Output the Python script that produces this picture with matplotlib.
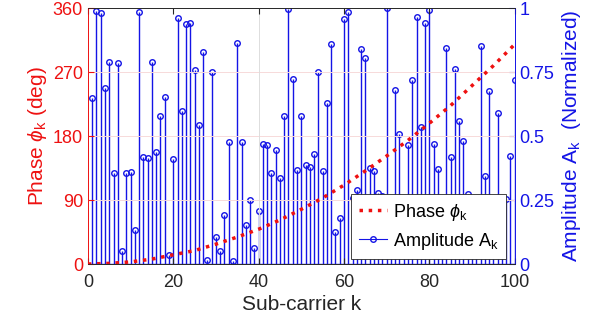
import numpy as np
import matplotlib.pyplot as plt

plt.rcParams['font.family'] = ['Liberation Sans', 'DejaVu Sans']
plt.rcParams['mathtext.fontset'] = 'custom'
plt.rcParams['mathtext.rm'] = 'Liberation Sans'
plt.rcParams['mathtext.it'] = 'Liberation Sans:italic'

# --- dados ---
k = np.arange(1, 101)
amplitude = [0.647, 0.990, 0.982, 0.686, 0.790, 0.354, 0.786, 0.052, 0.357, 0.360,
             0.133, 0.986, 0.419, 0.413, 0.788, 0.436, 0.579, 0.654, 0.035, 0.409,
             0.963, 0.599, 0.938, 0.940, 0.759, 0.543, 0.827, 0.016, 0.751, 0.107,
             0.052, 0.191, 0.478, 0.013, 0.865, 0.478, 0.152, 0.250, 0.061, 0.208,
             0.469, 0.465, 0.357, 0.445, 0.335, 0.578, 0.996, 0.723, 0.367, 0.578,
             0.387, 0.380, 0.430, 0.749, 0.365, 0.630, 0.859, 0.124, 0.178, 0.956,
             0.983, 0.257, 0.289, 0.842, 0.807, 0.374, 0.365, 0.279, 0.266, 0.999,
             0.120, 0.680, 0.508, 0.200, 0.467, 0.721, 0.966, 0.534, 0.940, 0.992,
             0.469, 0.370, 0.080, 0.846, 0.419, 0.762, 0.559, 0.482, 0.273, 0.170,
             0.050, 0.852, 0.344, 0.677, 0.220, 0.592, 0.140, 0.254, 0.422, 0.719]

phase_k = [0, 5, 10, 15, 20, 25, 30, 35, 40, 45, 50,
           55, 60, 65, 70, 75, 80, 85, 90, 95, 100]
phase_deg = [0, 1, 3, 7, 13, 19, 28, 38, 49, 62, 77,
             93, 111, 131, 152, 174, 198, 223, 251, 279, 309]

RED = '#ee1111'
BLUE = '#1414e6'
GRAY = '#262626'

fig = plt.figure(figsize=(6.02, 3.24), dpi=100)
ax1 = fig.add_axes([0.146, 0.185, 0.709, 0.790])
ax2 = ax1.twinx()

# --- amplitude (eixo direito) ---
markers, stems, base = ax2.stem(k, amplitude, basefmt=' ')
plt.setp(stems, color=BLUE, linewidth=1.0)
plt.setp(markers, color=BLUE, marker='o', markersize=4, markerfacecolor='none',
         markeredgewidth=1.0)
ax2.axhline(0, color=BLUE, linewidth=1.0)
ax2.set_ylim(0, 1)
ax2.set_yticks([0, 0.25, 0.5, 0.75, 1])
ax2.set_yticklabels(['0', '0.25', '0.5', '0.75', '1'])
ax2.set_ylabel(r'Amplitude A$_\mathrm{k}$  (Normalized)', color=BLUE, fontsize=15)

# --- fase (eixo esquerdo, por cima) ---
ax1.set_zorder(ax2.get_zorder() + 1)
ax1.patch.set_visible(False)
ax1.plot(phase_k, phase_deg, ':', color=RED, linewidth=2.5)
ax1.set_ylim(0, 360)
ax1.set_yticks([0, 90, 180, 270, 360])
ax1.set_xlim(0, 100)
ax1.set_xticks([0, 20, 40, 60, 80, 100])
ax1.set_ylabel(r'Phase $\phi_\mathrm{k}$ (deg)', color=RED, fontsize=15, labelpad=3)
ax1.set_xlabel('Sub-carrier k', color=GRAY, fontsize=15, labelpad=3)
for y in (90, 180, 270):
    ax1.axhline(y, color='#f7dada', linewidth=0.7, zorder=0)
ax1.axvline(40, color='#dddddd', linewidth=0.7, zorder=0)

# --- eixos estilo matlab ---
ax1.tick_params(axis='y', colors=RED, direction='in', labelsize=13, length=4)
ax1.tick_params(axis='x', colors=GRAY, direction='in', labelsize=13, length=4,
                top=True, pad=7)
ax2.tick_params(axis='y', colors=BLUE, direction='in', labelsize=13, length=4)
ax1.spines['left'].set_color(RED)
ax2.spines['left'].set_color(RED)
ax1.spines['right'].set_color(BLUE)
ax2.spines['right'].set_color(BLUE)
for a in (ax1, ax2):
    a.spines['top'].set_color(GRAY)
    a.spines['bottom'].set_color(GRAY)
    for s in a.spines.values():
        s.set_linewidth(0.6)

# --- legenda ---
h1 = plt.Line2D([], [], linestyle=':', color=RED, linewidth=2.5)
h2 = plt.Line2D([], [], color=BLUE, linewidth=0.8, marker='o', markersize=4,
                markerfacecolor='none', markevery=[1])
leg = ax1.legend([h1, h2], [r'Phase $\phi_\mathrm{k}$', r'Amplitude A$_\mathrm{k}$'],
                 loc='lower right', bbox_to_anchor=(0.979, 0.02), borderaxespad=0,
                 fontsize=13, fancybox=False, framealpha=1, edgecolor=GRAY,
                 handlelength=1.6, handletextpad=0.3, borderpad=0.4,
                 labelspacing=0.45)
leg.get_frame().set_linewidth(0.6)

fig.savefig('out.png', dpi=100)
